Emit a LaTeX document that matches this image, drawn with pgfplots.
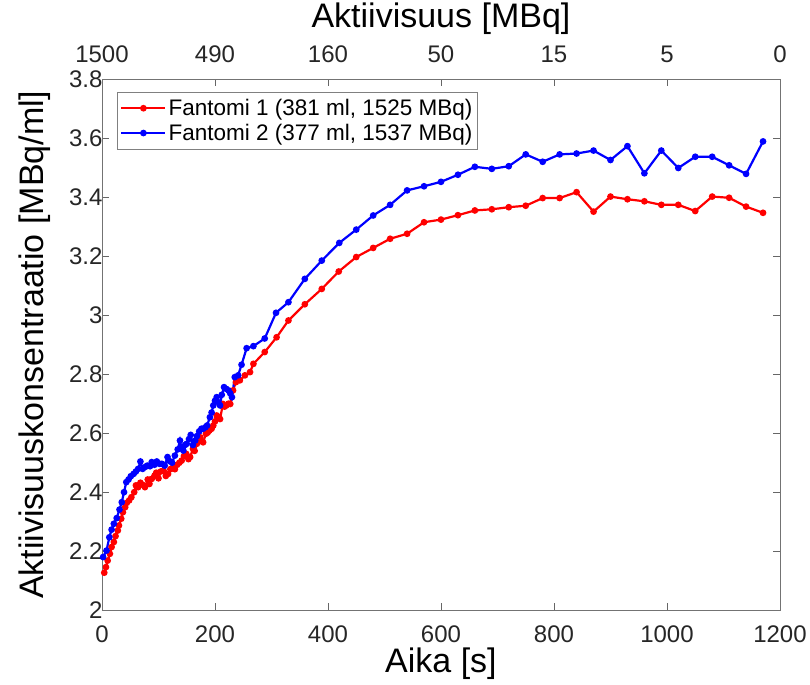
\documentclass[border=0pt]{standalone}
\usepackage{pgfplots}
\pgfplotsset{compat=1.18}
\usepackage{fontspec}
\setmainfont{Liberation Sans}

\begin{document}
\begin{tikzpicture}
\pgfplotsset{
  common/.style={
    width=678pt, height=531pt, scale only axis,
    xmin=0, xmax=1200, ymin=2, ymax=3.8,
    xtick={0,200,400,600,800,1000,1200},
    tick align=inside,
    major tick length=7pt,
    tick style={black!60, line width=0.8pt},
    axis line style={black!55, line width=0.9pt},
    /pgf/number format/assume math mode=true,
    /pgf/number format/1000 sep={},
    tick label style={font=\fontsize{24}{28}\selectfont, text=black!85},
    label style={font=\fontsize{34}{40}\selectfont, text=black},
  }
}
\begin{axis}[common, name=main,
  ytick={2,2.2,2.4,2.6,2.8,3,3.2,3.4,3.6,3.8},
  xlabel={Aika [s]},
  ylabel={Aktiivisuuskonsentraatio [MBq/ml]},
  xlabel style={at={(axis description cs:0.5,-0.1017)}, anchor=center},
  ylabel style={at={(axis description cs:-0.0988,0.5)}, anchor=center, rotate=0},
  xticklabel style={yshift=-12pt},
  yticklabel style={xshift=4pt},
  legend style={at={(0.022,0.976)}, anchor=north west, draw=black!50, line width=0.8pt,
    font=\fontsize{22.5}{27}\selectfont, row sep=3pt, inner xsep=3pt, inner ysep=5pt},
  legend cell align=left,
  legend image code/.code={\draw[#1, mark repeat=2, mark phase=2] plot coordinates {(0pt,0pt) (22pt,0pt) (44pt,0pt)};},
  every axis plot/.append style={line width=2.2pt, mark=*, mark size=2.2pt},
]
\addplot[red] coordinates {
(4,2.127)(7,2.146)(10,2.168)(14,2.191)(17,2.214)(21,2.231)(24,2.251)(28,2.270)(30,2.287)(34,2.310)
(37,2.332)(41,2.349)(44,2.364)(48,2.372)(52,2.383)(57,2.400)(60,2.423)(64,2.417)(68,2.432)(72,2.425)
(76,2.417)(81,2.443)(84,2.428)(88,2.445)(93,2.456)(96,2.466)(100,2.447)(104,2.470)(109,2.473)(113,2.455)
(117,2.462)(121,2.478)(126,2.485)(129,2.478)(133,2.493)(137,2.500)(141,2.507)(145,2.522)(149,2.530)(153,2.512)
(156,2.519)(161,2.547)(164,2.540)(168,2.564)(171,2.572)(174,2.586)(179,2.569)(184,2.598)(187,2.602)(190,2.609)
(194,2.615)(197,2.626)(200,2.640)(203,2.660)(206,2.655)(209,2.648)(214,2.699)(217,2.690)(220,2.694)(224,2.700)
(227,2.699)(232,2.745)(237,2.773)(244,2.779)(253,2.796)(262,2.807)(268,2.835)(288,2.875)(309,2.925)(330,2.982)
(359,3.037)(389,3.089)(419,3.148)(450,3.197)(480,3.228)(510,3.259)(540,3.276)(570,3.315)(600,3.324)(630,3.339)
(660,3.355)(690,3.359)(720,3.366)(750,3.371)(780,3.397)(810,3.397)(840,3.417)(870,3.351)(900,3.402)(930,3.393)
(960,3.386)(990,3.374)(1020,3.374)(1050,3.353)(1080,3.402)(1110,3.398)(1140,3.368)(1170,3.347)
};
\addlegendentry{Fantomi 1 (381 ml, 1525 MBq)}
\addplot[blue] coordinates {
(2,2.180)(8,2.202)(13,2.247)(17,2.273)(21,2.293)(26,2.312)(31,2.341)(35,2.366)(39,2.400)(43,2.434)
(47,2.443)(51,2.454)(56,2.462)(60,2.470)(64,2.479)(68,2.504)(72,2.479)(76,2.485)(80,2.490)(85,2.488)
(88,2.502)(93,2.493)(97,2.504)(102,2.496)(106,2.496)(111,2.490)(116,2.519)(120,2.505)(124,2.500)(129,2.524)
(134,2.545)(138,2.575)(141,2.548)(144,2.541)(147,2.560)(150,2.564)(154,2.580)(157,2.594)(161,2.560)(165,2.575)
(168,2.590)(172,2.606)(176,2.615)(179,2.615)(183,2.620)(186,2.626)(191,2.654)(194,2.670)(197,2.694)(200,2.710)
(203,2.722)(206,2.705)(209,2.694)(212,2.730)(216,2.756)(220,2.750)(224,2.745)(227,2.735)(230,2.722)(235,2.790)
(241,2.796)(247,2.832)(256,2.888)(268,2.895)(288,2.921)(308,3.008)(330,3.044)(359,3.123)(389,3.185)(420,3.245)
(450,3.290)(480,3.338)(510,3.374)(540,3.423)(570,3.437)(600,3.452)(630,3.476)(660,3.503)(690,3.496)(720,3.505)
(750,3.545)(780,3.520)(810,3.545)(840,3.548)(870,3.558)(900,3.526)(930,3.573)(960,3.481)(990,3.558)(1020,3.499)
(1050,3.537)(1080,3.537)(1110,3.508)(1140,3.479)(1170,3.589)
};
\addlegendentry{Fantomi 2 (377 ml, 1537 MBq)}
\end{axis}
\begin{axis}[common, at={(main.south west)}, anchor=south west,
  axis x line*=top, axis y line=none,
  xticklabels={1500,490,160,50,15,5,0},
  xtick style={draw=none},
  x axis line style={draw=none},
  xlabel={Aktiivisuus [MBq]},
  xlabel style={at={(axis description cs:0.5,1.113)}, anchor=center},
  xticklabel style={yshift=13pt},
]
\end{axis}
\path ([xshift=-102pt,yshift=-74pt]main.south west) rectangle ([xshift=30pt,yshift=77pt]main.north east);
\end{tikzpicture}
\end{document}
